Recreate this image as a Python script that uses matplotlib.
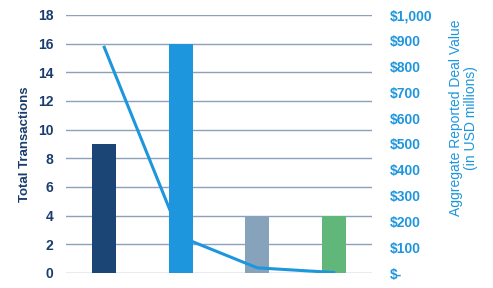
import matplotlib.pyplot as plt
import numpy as np

plt.rcParams['font.family'] = ['Liberation Sans', 'DejaVu Sans']

# data
categories = ['A', 'B', 'C', 'D']
transactions = [9, 16, 4, 4]
deal_value = [875, 140, 20, 2]
bar_colors = ['#1A4575', '#1E96DD', '#87A3BB', '#61B77A']

navy = '#1A3D6E'
blue = '#1E96DD'
grid_c = '#8AA2BB'

fig = plt.figure(figsize=(4.93, 2.88), dpi=100)
ax = fig.add_axes([66 / 493, 15 / 288, 306 / 493, 258 / 288])
x = np.arange(len(categories))

ax.bar(x, transactions, width=0.31, color=bar_colors, zorder=2)
ax.set_xlim(-0.5, 3.5)
ax.set_ylim(0, 18)
ax.set_yticks(range(0, 19, 2))
ax.set_xticks([])
ax.yaxis.grid(True, color=grid_c, linewidth=1.0, zorder=0)
ax.set_axisbelow(True)
for s in ax.spines.values():
    s.set_visible(False)
ax.tick_params(axis='y', length=0, pad=9, labelsize=10, labelcolor=navy)
for t in ax.get_yticklabels():
    t.set_fontweight('bold')
ax.set_ylabel('Total Transactions', fontsize=9.5, fontweight='bold', color=navy)
ax.yaxis.set_label_coords(-0.114, 0.5)

ax2 = ax.twinx()
ax2.plot(x, deal_value, color=blue, linewidth=2.2, zorder=3)
ax2.set_ylim(0, 1000)
ax2.set_yticks(range(0, 1001, 100))
labels = ['$-'] + ['${:,}'.format(v) for v in range(100, 1001, 100)]
ax2.set_yticklabels(labels)
for s in ax2.spines.values():
    s.set_visible(False)
ax2.tick_params(axis='y', length=0, pad=13, labelsize=10, labelcolor=blue)
for t in ax2.get_yticklabels():
    t.set_fontweight('bold')
ax2.set_ylabel('Aggregate Reported Deal Value\n(in USD millions)', fontsize=10,
               color=blue, linespacing=1.05)
ax2.yaxis.set_label_coords(1.252, 0.6)

fig.savefig('out.png', dpi=100)
